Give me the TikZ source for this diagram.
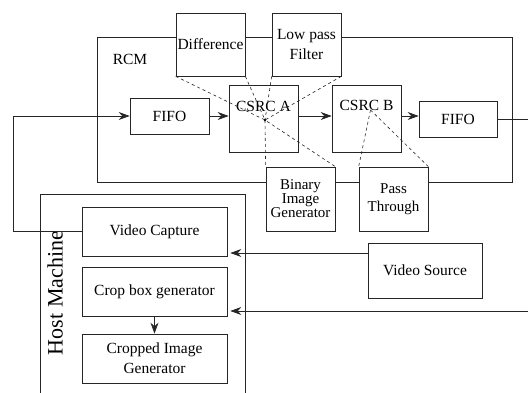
\documentclass[tikz,border=0pt]{standalone}
\usepackage{fontspec}
\setmainfont{Liberation Serif}
\usetikzlibrary{arrows.meta}
\begin{document}
\begin{tikzpicture}[x=1pt,y=-1pt,
  ln/.style={draw=black!85,line width=0.7pt},
  blk/.style={ln,fill=white,inner sep=0pt,align=center,font=\fontsize{15.5}{20}\selectfont},
  arr/.style={ln,-{Stealth[length=11pt,width=8pt]}},
  dsh/.style={draw=black!85,line width=0.6pt,dash pattern=on 3pt off 3pt},
  lbl/.style={inner sep=0pt,font=\fontsize{15.5}{20}\selectfont}]
\useasboundingbox (0,0) rectangle (528,393);
% RCM frame
\draw[ln] (97,37) rectangle (512,182);
\node[lbl] (rcm) at (130,59) {RCM};
% Host machine frame
\draw[ln] (40,393) -- (40,194) -- (245,194) -- (245,393);
\node[inner sep=0pt,rotate=90,font=\fontsize{22}{24}\selectfont] (host) at (55,293) {Host Machine};
% blocks
\node[blk,minimum width=69,minimum height=63] (diff) at (210.5,44.5) {Difference};
\node[blk,minimum width=69,minimum height=63] (lpf) at (306.5,44.5) {Low pass\\Filter};
\node[blk,minimum width=79,minimum height=36] (fifoA) at (169.5,116) {FIFO};
\node[blk,minimum width=69,minimum height=67] (csrcA) at (263.5,118.5) {};
\node[lbl] (csrcAt) at (263.5,106) {CSRC A};
\node[blk,minimum width=69,minimum height=67] (csrcB) at (366.5,118.5) {};
\node[lbl] (csrcBt) at (366.5,105) {CSRC B};
\node[blk,minimum width=78,minimum height=36] (fifoB) at (458,119) {FIFO};
\node[blk,minimum width=69,minimum height=64,font=\fontsize{15}{14}\selectfont] (bin) at (300.5,199) {Binary\\Image\\Generator};
\node[blk,minimum width=69,minimum height=64,font=\fontsize{15}{18}\selectfont] (pass) at (393.5,199) {Pass\\Through};
\node[blk,minimum width=145,minimum height=49] (vc) at (154.5,231.5) {Video Capture};
\node[blk,minimum width=145,minimum height=49] (cbg) at (154.5,291.5) {Crop box generator};
\node[blk,minimum width=145,minimum height=49] (cig) at (154.5,358.5) {Cropped Image\\Generator};
\node[blk,minimum width=114,minimum height=55] (vs) at (425,270.5) {Video Source};
% dashed links
\coordinate (ca) at (265,120);
\coordinate (cb) at (370.5,110);
\draw[dsh] (diff.south west) -- (ca) -- (bin.north east);
\draw[dsh] (diff.south east) -- (ca);
\draw[dsh] (lpf.south west) -- (ca);
\draw[dsh] (lpf.south east) -- (ca);
\draw[dsh] (ca) -- (bin.north west);
\fill[black] (ca) circle (1.3pt);
\draw[dsh] (cb) -- (pass.north west);
\draw[dsh] (cb) -- (pass.north east);
% arrows
\coordinate (loopx) at (13,116);
\draw[arr] (vc.west) -- (vc.west -| loopx) |- (fifoA.west);
\draw[arr] (fifoA.east) -- (fifoA.east -| csrcA.west);
\draw[arr] ([yshift=2.5pt]csrcA.east) -- ([yshift=2.5pt]csrcB.west);
\draw[arr] (fifoA.east -| csrcB.east) -- (fifoA.east -| fifoB.west);
\coordinate (rout) at (528,119);
\draw[ln] (fifoB.east) -- (rout);
\coordinate (rin) at (528,311);
\draw[arr] (rin) -- ([xshift=3pt]rin -| cbg.east);
\draw[arr] ([yshift=17.5pt]vs.west) coordinate (vsout) -- ([xshift=3pt]vsout -| vc.east);
\draw[arr] (cbg.south) -- (cig.north);
\end{tikzpicture}
\end{document}
